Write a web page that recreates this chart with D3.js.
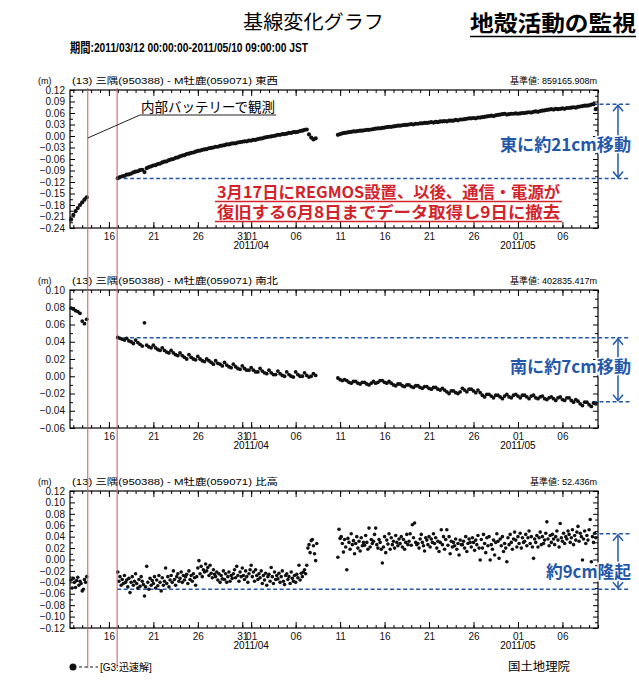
<!DOCTYPE html>
<html>
<head>
<meta charset="utf-8">
<script src="https://cdn.jsdelivr.net/npm/d3@7/dist/d3.min.js"></script>
<style>
body { margin: 0; background: #fff; }
text { font-family: "Liberation Sans", Arial, "Noto Sans CJK JP", sans-serif; }
.jp { font-family: "Noto Sans CJK JP", sans-serif; }
</style>
</head>
<body>
<svg id="chart" width="639" height="698"></svg>
<script>
// x is in days since 2011/03/12 00:00 JST, the plot ends 2011/05/10 09:00
var xDomain = [0, 59.375];
var tickHour = 0.375;//ticks sit at 09:00 JST
var majorDays = [4, 9, 14, 19, 20, 25, 30, 35, 40, 45, 50, 55];
var majorLabels = ["16", "21", "26", "31", "01", "06", "11", "16", "21", "26", "01", "06"];
var monthDays = [20, 50];
var monthLabels = ["2011/04", "2011/05"];
var eventDays = [2.0, 5.3];//battery obs. / REGMOS installed

var panelNames = ["東西", "南北", "比高"];
var baseValues = ["859165.908m", "402835.417m", "52.436m"];
var yDomains = [[-0.24, 0.12], [-0.06, 0.10], [-0.12, 0.12]];
var ySteps = [0.03, 0.02, 0.02];

// blue guide levels (m)
var refLong = [-0.111, 0.0447, -0.052];
var refShort = [0.083, -0.0295, 0.045];
var moveLabels = ["東に約21cm移動", "南に約7cm移動", "約9cm隆起"];
var moveLabelAt = [-0.023, 0.0107, -0.022];

// series in mm, three pieces each, starting at these days
var segStart = [0.125, 5.375, 30.125];
var ewStep = 0.25, nsStep = 0.25, udStep = 0.125;

var ewA = [-218, -206, -196, -188, -180, -173, -166, -160];
var ewB = [-110, -107, -105, -104, -101, -100, -98, -95, -93, -92, -89, -88, -94, -84, -81, -79,
  -77, -76, -73, -72, -69, -67, -66, -63, -61, -60, -57, -56, -53, -51, -50, -47,
  -46, -44, -43, -41, -39, -38, -36, -35, -34, -32, -31, -30, -28, -28, -26, -25,
  -24, -22, -22, -20, -19, -19, -17, -16, -15, -14, -14, -12, -12, -10, -10, -8,
  -7, -6, -4, -3, -2, -1, 0, 1, 3, 3, 5, 5, 6, 8, 8, 10, 10, 11, 13, 14, 16, 17, 4, -4, -9, -6];
var ewC = [3, 5, 7, 8, 9, 10, 11, 12, 12, 13, 14, 14, 15, 16, 16, 17, 18, 19, 20, 20,
  21, 22, 23, 24, 24, 25, 26, 27, 27, 28, 29, 29, 30, 31, 30, 32, 32, 33, 33, 34,
  34, 35, 36, 35, 37, 36, 38, 38, 39, 38, 40, 40, 40, 42, 41, 43, 43, 44, 45, 46,
  46, 47, 46, 48, 48, 49, 50, 51, 52, 53, 52, 54, 55, 56, 57, 58, 56, 57, 58, 58,
  59, 58, 59, 60, 60, 61, 62, 61, 63, 64, 63, 65, 66, 67, 68, 69, 70, 69, 71, 70,
  71, 72, 71, 73, 73, 74, 75, 74, 76, 77, 78, 79, 79, 80, 82, 83, 70];

var nsA = [79, 78, 76, 75, 73, 64, 61, 66];
var nsB = [45, 44, 43, 42, 44, 41, 40, 38, 42, 39, 37, 35, 62, 36, 34, 33,
  36, 33, 31, 30, 33, 30, 28, 27, 30, 27, 25, 24, 27, 24, 22, 20,
  25, 22, 20, 19, 23, 20, 18, 17, 20, 18, 16, 14, 18, 15, 14, 12,
  16, 13, 11, 10, 14, 11, 9, 8, 12, 9, 7, 7, 10, 7, 5, 5,
  9, 6, 4, 3, 7, 4, 2, 2, 6, 3, 1, 0, 5, 2, 0, -1, 5, 2, 0, 0, 4, 1, -1, 0, 3, 1];
var nsC = [-2, -4, -5, -4, -5, -7, -8, -6, -6, -8, -9, -7, -7, -9, -10, -8,
  -6, -8, -7, -5, -5, -7, -8, -6, -8, -10, -11, -9, -9, -11, -12, -10,
  -10, -12, -13, -11, -11, -13, -14, -12, -12, -14, -15, -13, -13, -15, -16, -14,
  -16, -18, -20, -17, -17, -19, -20, -18, -14, -16, -18, -15, -15, -17, -19, -16,
  -19, -22, -24, -21, -21, -23, -25, -22, -22, -24, -26, -23, -21, -24, -25, -22,
  -21, -23, -25, -22, -22, -24, -26, -23, -22, -25, -26, -24, -23, -26, -27, -25,
  -24, -26, -28, -25, -24, -27, -28, -25, -25, -28, -30, -27, -29, -32, -34, -30,
  -30, -33, -35, -31, -32];

var udA = [-36, -50, -33, -40, -49, -37, -31, -45, -38, -42, -55, -52, -35, -40, -30];
var udB = [-22, -38, -30, -45, -35, -42, -28, -40, -36, -48, -33, -58, -40, -30, -45, -38,
  -25, -42, -50, -35, -47, -30, -38, -44, -64, -48, -12, -40, -52, -33, -45, -37,
  -42, -30, -50, -36, -46, -28, -40, -55, -32, -45, -38, -15, -42, -30, -48, -36,
  -28, -40, -20, -35, -45, -30, -25, -38, -33, -22, -40, -28, -36, -30, -26, -42,
  -20, -35, -28, -38, -25, -32, -45, -30, -15, -2, -25, -12, -30, -18, -22, -8,
  -20, -14, -28, -10, -24, -32, -18, -26, -30, -22, -36, -25, -40, -28, -34, -20,
  -35, -25, -40, -30, -22, -38, -28, -33, -25, -18, -32, -12, -28, -38, -22, -30,
  -15, -28, -35, -20, -30, -40, -25, -18, -10, -30, -22, -38, -18, -28, -35, -25,
  -32, -20, -42, -28, -36, -24, -45, -30, -26, -38, -14, -30, -42, -22, -35, -28,
  -34, -24, -40, -30, -20, -38, -44, -28, -25, -35, -30, -42, -22, -33, -38, -28,
  -40, -26, -32, -10, -36, -24, -30, -22, -18, -25, -10, 20, 26, 12, 33, 35,
  24, 10, -2, 28];
var udC = [4, 53, 37, 40, 28, 13, 35, 22, -18, 37, 30, 18, 45, 26, 33, 10,
  28, 40, 20, 32, 15, 38, 24, 30, 25, 42, 30, 18, 55, 22, 35, 28,
  32, 44, 55, 26, 20, 35, 30, 18, -6, 22, 40, 12, 34, 27, 45, 18,
  38, 26, 32, 20, 42, 30, 24, 36, 28, 40, 22, 35, 18, 30, 44, 26,
  32, 45, 25, 61, 38, 64, 30, 26, 28, 20, 36, 44, 30, 24, 15, 38,
  34, 26, 40, 22, 36, 30, 45, 28, 38, 20, 32, 14, 30, 52, 26, 40,
  18, 35, 52, 25, 40, 10, 32, 22, 30, 24, 36, 18, 28, 8, 34, 26,
  26, 32, 20, 40, 14, 28, 36, 30, 22, 38, 30, 16, 34, 26, 42, 20,
  -1, 35, 20, 44, 28, 12, 38, 24, 40, -1, 26, 18, 34, 8, 30, 45,
  32, 2, 36, 24, 40, 14, 28, 20, -4, 38, 26, 44, 30, 18, 36, 48,
  34, 22, 40, 28, 46, 20, 38, 30, 32, 44, 24, 38, 50, 28, 40, 22,
  2, 36, 30, 42, 22, 38, 48, 26, 40, 28, 34, 46, 66, 36, 24, 42,
  30, 44, 36, 26, 40, 50, 34, 22, 63, 38, 32, 46, 28, 40, 36, 50,
  44, 30, 38, 52, 26, 42, 34, 48, 58, 32, 46, 40, -1, 36, 50, 28,
  42, 34, 52, 70, -4, 40, 30, 46, 38];

var series = [[ewA, ewB, ewC], [nsA, nsB, nsC], [udA, udB, udC]];
var steps = [ewStep, nsStep, udStep];
var dotSize = [2.1, 1.9, 1.8];

//layout
var svg = d3.select("#chart");
var frames = [{top: 90, bottom: 228}, {top: 290, bottom: 428}, {top: 491, bottom: 628}];
var x = d3.scaleLinear().domain(xDomain).range([70, 598]);
var blue = "#2457a8";
var red = "#d3232a";

function toPoints(segs, step) {
  var pts = [];
  segs.forEach(function(vals, s) {
    vals.forEach(function(v, i) { pts.push({day: segStart[s] + i * step, v: v / 1000}); });
  });
  return pts;
}

// headings
svg.append("text").attr("class", "jp").attr("x", 243).attr("y", 29)
  .attr("font-size", 19).attr("textLength", 141).attr("lengthAdjust", "spacingAndGlyphs")
  .text("基線変化グラフ");
svg.append("text").attr("class", "jp").attr("x", 470).attr("y", 31)
  .attr("font-size", 22).attr("font-weight", "bold").attr("textLength", 166).attr("lengthAdjust", "spacingAndGlyphs")
  .text("地殻活動の監視");
svg.append("line").attr("x1", 470).attr("x2", 636).attr("y1", 36.5).attr("y2", 36.5)
  .attr("stroke", "#000").attr("stroke-width", 1.6);
svg.append("text").attr("x", 70).attr("y", 52).attr("font-size", 13).attr("font-weight", 600)
  .attr("textLength", 238).attr("lengthAdjust", "spacingAndGlyphs")
  .text("期間:2011/03/12 00:00:00-2011/05/10 09:00:00 JST");

var minorDays = d3.range(0, 60).map(function(d) { return d + tickHour; })
  .filter(function(d) { return d <= xDomain[1]; });

frames.forEach(function(f, p) {
  var g = svg.append("g");
  var y = d3.scaleLinear().domain(yDomains[p]).range([f.bottom, f.top]);
  var yMajor = d3.range(yDomains[p][0], yDomains[p][1] + 1e-9, ySteps[p]);
  var yMinor = d3.range(yDomains[p][0] + ySteps[p] / 2, yDomains[p][1], ySteps[p]);

  //header row
  g.append("text").attr("x", 38).attr("y", f.top - 6).attr("font-size", 9).text("(m)");
  g.append("text").attr("x", 72).attr("y", f.top - 6).attr("font-size", 9)
    .attr("textLength", 206).attr("lengthAdjust", "spacingAndGlyphs")
    .text("(13)  三隅(950388) - M牡鹿(059071)  " + panelNames[p]);
  g.append("text").attr("x", 597).attr("y", f.top - 6).attr("font-size", 9)
    .attr("text-anchor", "end").text("基準値:  " + baseValues[p]);

  //axes, ticks pointing inwards
  var axes = [
    [d3.axisBottom(x).tickValues(minorDays).tickSize(-3).tickFormat(""), f.bottom, 0],
    [d3.axisBottom(x).tickValues(majorDays.map(function(d) { return d + tickHour; }))
      .tickSize(-6).tickPadding(5).tickFormat(function(d, i) { return majorLabels[i]; }), f.bottom, 0],
    [d3.axisTop(x).tickValues(minorDays).tickSize(-3).tickFormat(""), f.top, 0],
    [d3.axisTop(x).tickValues(majorDays.map(function(d) { return d + tickHour; })).tickSize(-6).tickFormat(""), f.top, 0],
    [d3.axisLeft(y).tickValues(yMajor).tickSize(-5).tickPadding(5).tickFormat(d3.format(".2f")), 0, 70],
    [d3.axisLeft(y).tickValues(yMinor).tickSize(-3).tickFormat(""), 0, 70],
    [d3.axisRight(y).tickValues(yMajor).tickSize(-5).tickFormat(""), 0, 598],
    [d3.axisRight(y).tickValues(yMinor).tickSize(-3).tickFormat(""), 0, 598]
  ];
  axes.forEach(function(a) {
    var ag = g.append("g").attr("transform", "translate(" + a[2] + "," + a[1] + ")").call(a[0]);
    ag.select(".domain").remove();
    ag.attr("font-family", null).attr("font-size", 10);
    ag.selectAll("text").attr("fill", "#111");
  });

  g.selectAll(".month").data(monthDays).enter().append("text")
    .attr("x", function(d) { return x(d + tickHour); })
    .attr("y", f.bottom + 20.5)
    .attr("text-anchor", "middle").attr("font-size", 10)
    .text(function(d, i) { return monthLabels[i]; });

  g.append("rect").attr("x", 70).attr("y", f.top).attr("width", 528).attr("height", f.bottom - f.top)
    .attr("fill", "none").attr("stroke", "#000").attr("stroke-width", 1.2);

  //guide lines
  g.append("line").attr("x1", x(eventDays[1])).attr("x2", 630)
    .attr("y1", y(refLong[p])).attr("y2", y(refLong[p]))
    .attr("stroke", blue).attr("stroke-width", 1.4).attr("stroke-dasharray", "4,2.5");
  g.append("line").attr("x1", 593).attr("x2", 630)
    .attr("y1", y(refShort[p])).attr("y2", y(refShort[p]))
    .attr("stroke", blue).attr("stroke-width", 1.4).attr("stroke-dasharray", "4,2.5");

  //points
  g.append("g").selectAll("circle")
    .data(toPoints(series[p], steps[p]))
    .enter().append("circle")
    .attr("cx", function(d) { return x(d.day); })
    .attr("cy", function(d) { return y(d.v); })
    .attr("r", dotSize[p])
    .attr("fill", "#111");

  //arrow
  var ya = y(refShort[p]), yb = y(refLong[p]);
  var top = Math.min(ya, yb), bot = Math.max(ya, yb);
  g.append("line").attr("x1", 618).attr("x2", 618).attr("y1", top + 1).attr("y2", bot - 1)
    .attr("stroke", blue).attr("stroke-width", 1.5);
  g.append("path").attr("d", "M613," + (top + 7) + "L618," + (top + 1) + "L623," + (top + 7) +
      "M613," + (bot - 7) + "L618," + (bot - 1) + "L623," + (bot - 7))
    .attr("fill", "none").attr("stroke", blue).attr("stroke-width", 1.5);

  var lw = [131, 121, 85][p];
  g.append("text").attr("class", "jp")
    .attr("x", 631 - lw).attr("y", y(moveLabelAt[p]) + 6)
    .attr("font-size", 17).attr("font-weight", "bold").attr("fill", blue)
    .attr("textLength", lw).attr("lengthAdjust", "spacingAndGlyphs")
    .attr("stroke", "#fff").attr("stroke-width", 3).attr("paint-order", "stroke")
    .text(moveLabels[p]);
});

//event lines through all panels
svg.selectAll(".event").data(eventDays).enter().append("line")
  .attr("x1", function(d) { return x(d); }).attr("x2", function(d) { return x(d); })
  .attr("y1", 88).attr("y2", 668)
  .attr("stroke", "#c45a60").attr("stroke-width", 1);

//callouts on the first panel
svg.append("path").attr("d", "M" + x(eventDays[0]) + ",138L140,115L276,115")
  .attr("fill", "none").attr("stroke", "#222").attr("stroke-width", 1);
svg.append("text").attr("class", "jp").attr("x", 141).attr("y", 112)
  .attr("font-size", 14).attr("textLength", 134).attr("lengthAdjust", "spacingAndGlyphs")
  .text("内部バッテリーで観測");

var noteLines = ["3月17日にREGMOS設置、以後、通信・電源が", "復旧する6月8日までデータ取得し9日に撤去"];
noteLines.forEach(function(t, i) {
  svg.append("text").attr("class", "jp").attr("x", 217).attr("y", 198 + i * 20)
    .attr("font-size", 16).attr("font-weight", "bold").attr("fill", red)
    .attr("textLength", 343).attr("lengthAdjust", "spacingAndGlyphs")
    .text(t);
  svg.append("line").attr("x1", 215).attr("x2", 562).attr("y1", 201.5 + i * 20).attr("y2", 201.5 + i * 20)
    .attr("stroke", red).attr("stroke-width", 1.5);
});

//footer
svg.append("circle").attr("cx", 73).attr("cy", 667).attr("r", 3.5).attr("fill", "#111");
svg.append("line").attr("x1", 79).attr("x2", 98).attr("y1", 667).attr("y2", 667)
  .attr("stroke", "#111").attr("stroke-dasharray", "3,2.5");
svg.append("text").attr("x", 100).attr("y", 671).attr("font-size", 10).text("[G3:迅速解]");
svg.append("text").attr("x", 508).attr("y", 671).attr("font-size", 12)
  .attr("textLength", 62).attr("lengthAdjust", "spacingAndGlyphs").text("国土地理院");
</script>
</body>
</html>
